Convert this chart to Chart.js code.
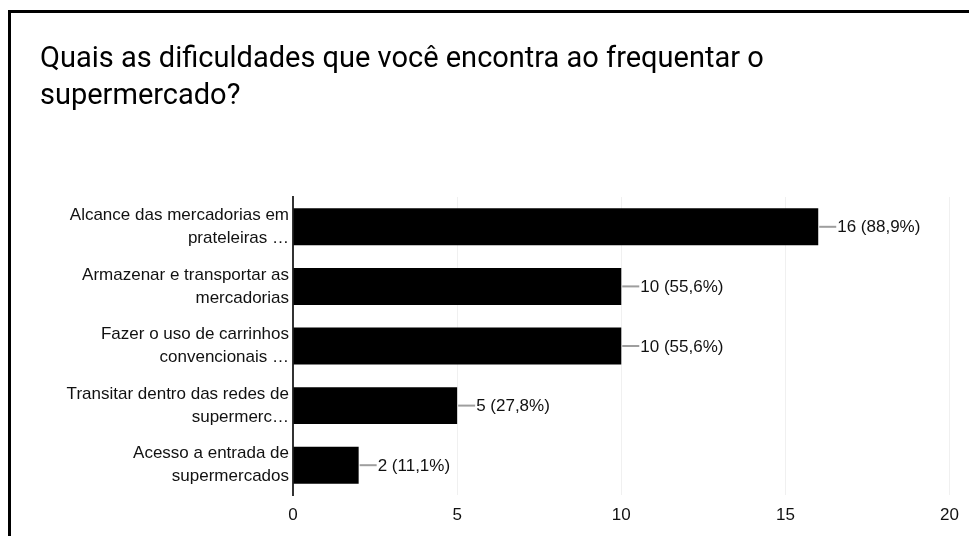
<!DOCTYPE html>
<html>
<head>
<meta charset="utf-8">
<script src="https://cdn.jsdelivr.net/npm/chart.js@4/dist/chart.umd.min.js"></script>
<style>
  html, body { margin: 0; padding: 0; background: #fff; overflow: hidden; }
  #wrap { position: relative; width: 969px; height: 536px; }
  #frame { position: absolute; left: 8px; top: 10px; width: 1000px; height: 600px;
           border-left: 3px solid #000; border-top: 3px solid #000; pointer-events: none; z-index: 2; }
  canvas { position: absolute; left: 0; top: 0; }
</style>
</head>
<body>
<div id="wrap">
  <canvas id="c" width="969" height="536"></canvas>
  <div id="frame"></div>
</div>
<script>
const titleLines = ["Quais as dificuldades que você encontra ao frequentar o", "supermercado?"];
const categories = [
  ["Alcance das mercadorias em", "prateleiras …"],
  ["Armazenar e transportar as", "mercadorias"],
  ["Fazer o uso de carrinhos", "convencionais …"],
  ["Transitar dentro das redes de", "supermerc…"],
  ["Acesso a entrada de", "supermercados"]
];
const counts = [16, 10, 10, 5, 2];
const percents = ["88,9%", "55,6%", "55,6%", "27,8%", "11,1%"];
const xTicks = [0, 5, 10, 15, 20];

const labelFont = { family: "'Liberation Sans', Arial, sans-serif", size: 17 };

const valueLabels = {
  id: 'valueLabels',
  afterDatasetsDraw(chart) {
    const ctx = chart.ctx;
    const meta = chart.getDatasetMeta(0);
    ctx.save();
    meta.data.forEach((bar, i) => {
      const x = bar.x, y = bar.y;
      ctx.strokeStyle = '#9e9e9e';
      ctx.lineWidth = 2;
      ctx.beginPath();
      ctx.moveTo(x + 1, y);
      ctx.lineTo(x + 18, y);
      ctx.stroke();
      ctx.fillStyle = '#111';
      ctx.font = labelFont.size + "px " + labelFont.family;
      ctx.textAlign = 'left';
      ctx.textBaseline = 'middle';
      ctx.fillText(counts[i] + " (" + percents[i] + ")", x + 19, y + 1);
    });
    ctx.restore();
  }
};

new Chart(document.getElementById('c'), {
  type: 'bar',
  data: {
    labels: categories,
    datasets: [{
      data: counts,
      backgroundColor: '#000',
      borderWidth: 0,
      categoryPercentage: 1,
      barPercentage: 0.62
    }]
  },
  options: {
    indexAxis: 'y',
    responsive: false,
    animation: false,
    devicePixelRatio: 1,
    layout: { padding: { left: 40, right: 19, top: 41, bottom: 0 } },
    plugins: {
      legend: { display: false },
      tooltip: { enabled: false },
      title: {
        display: true,
        text: titleLines,
        align: 'start',
        color: '#000',
        font: { family: 'Roboto, sans-serif', size: 29, weight: 'normal', lineHeight: 1.276 },
        padding: { top: 0, bottom: 82 }
      }
    },
    scales: {
      x: {
        min: 0, max: 20,
        afterBuildTicks(scale) { scale.ticks = xTicks.map(v => ({ value: v })); },
        afterFit(scale) { scale.height = 41; },
        grid: { color: '#f0f0f0', lineWidth: 1, drawTicks: false },
        border: { display: false },
        ticks: { color: '#111', font: labelFont, padding: 10 }
      },
      y: {
        afterFit(scale) { scale.width = 253; },
        grid: { display: false, drawTicks: false },
        border: { display: true, color: '#333', width: 2 },
        ticks: { color: '#111', font: { ...labelFont, lineHeight: 1.35 }, padding: 4 }
      }
    }
  },
  plugins: [valueLabels]
});
</script>
</body>
</html>
